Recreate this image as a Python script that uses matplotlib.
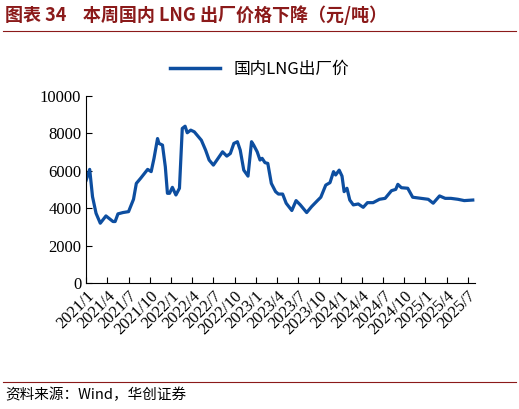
import matplotlib
matplotlib.use("Agg")
import matplotlib.pyplot as plt
from matplotlib.lines import Line2D

# months since 2021/1 and price (yuan/ton)
months = [0, 0.5, 0.9, 1.4, 2.0, 2.8, 3.8, 4.1, 4.5, 5.2, 6.0, 6.7, 7.1, 7.7, 8.7, 9.2, 9.6,
          10.1, 10.3, 10.8, 11.2, 11.5, 11.8, 12.2, 12.7, 13.2, 13.6, 14.0, 14.3, 14.8, 15.3,
          15.7, 16.3, 16.9, 17.4, 18.0, 18.5, 19.3, 19.9, 20.4, 20.9, 21.4, 21.8, 22.3, 22.9,
          23.4, 23.7, 24.2, 24.6, 24.9, 25.3, 25.7, 26.2, 26.8, 27.2, 27.8, 28.3, 29.1, 29.7,
          30.3, 31.2, 31.9, 32.8, 33.2, 33.9, 34.5, 35.0, 35.3, 35.8, 36.2, 36.5, 36.9, 37.3,
          37.8, 38.5, 39.2, 39.8, 40.6, 41.5, 42.3, 43.2, 43.8, 44.1, 44.6, 45.5, 46.2, 47.4,
          48.4, 49.1, 50.0, 50.8, 51.6, 52.6, 53.5, 54.7]
price = [5500, 6080, 4620, 3730, 3200, 3590, 3290, 3290, 3700, 3770, 3820, 4480, 5330, 5600,
         6080, 5960, 6670, 7730, 7470, 7380, 6220, 4800, 4800, 5120, 4710, 5070, 8270, 8390,
         8040, 8180, 8090, 7910, 7640, 7110, 6580, 6310, 6580, 7020, 6790, 6930, 7470, 7560,
         7110, 6040, 5720, 7560, 7380, 7020, 6580, 6670, 6440, 6400, 5330, 4890, 4760, 4760,
         4270, 3880, 4410, 4180, 3770, 4090, 4440, 4590, 5240, 5370, 5960, 5780, 6040, 5720,
         4890, 5070, 4440, 4180, 4230, 4050, 4300, 4300, 4480, 4530, 4940, 5010, 5280, 5100,
         5070, 4590, 4530, 4480, 4270, 4660, 4530, 4530, 4480, 4410, 4440]
tick_labels = [f"{2021 + i // 4}/{1 + 3 * (i % 4)}" for i in range(19)]

serif = ["Liberation Serif", "Noto Serif CJK SC", "Noto Sans CJK SC"]
cjk = ["Noto Sans CJK SC", "DejaVu Sans"]
blue = "#0D4EA0"

fig = plt.figure(figsize=(5.19, 4.09), dpi=100)
ax = fig.add_axes([0.166, 0.308, 0.749, 0.457])
ax.plot(months, price, color=blue, lw=2.3)
ax.set_xlim(0, 55)
ax.set_ylim(0, 10000)
ax.set_yticks(range(0, 10001, 2000))
ax.set_xticks(range(0, 55, 3))
ax.set_xticklabels(tick_labels, rotation=45, ha="right", rotation_mode="anchor")
for lab in ax.get_xticklabels() + ax.get_yticklabels():
    lab.set_family(serif)
    lab.set_fontsize(12)
for s in ["top", "right"]:
    ax.spines[s].set_visible(False)
ax.tick_params(direction="in", length=4)

fig.legend([Line2D([], [], color=blue, lw=2.5)], ["国内LNG出厂价"], loc="center",
           bbox_to_anchor=(0.5, 0.83), frameon=False, prop={"family": cjk, "size": 12},
           handlelength=3)

fig.text(0.01, 0.962, "图表 34    本周国内 LNG 出厂价格下降（元/吨）", color="#8B1A1A",
         fontsize=13, fontweight="bold", family=cjk, va="center")
fig.add_artist(Line2D([0.005, 0.995], [0.925, 0.925], color="#8B1A1A", lw=0.8))
fig.add_artist(Line2D([0.005, 0.995], [0.065, 0.065], color="#8B1A1A", lw=0.8))
fig.text(0.01, 0.035, "资料来源：Wind，华创证券", fontsize=10.5, style="italic",
         family=cjk, va="center")

fig.savefig("out.png", dpi=100)
